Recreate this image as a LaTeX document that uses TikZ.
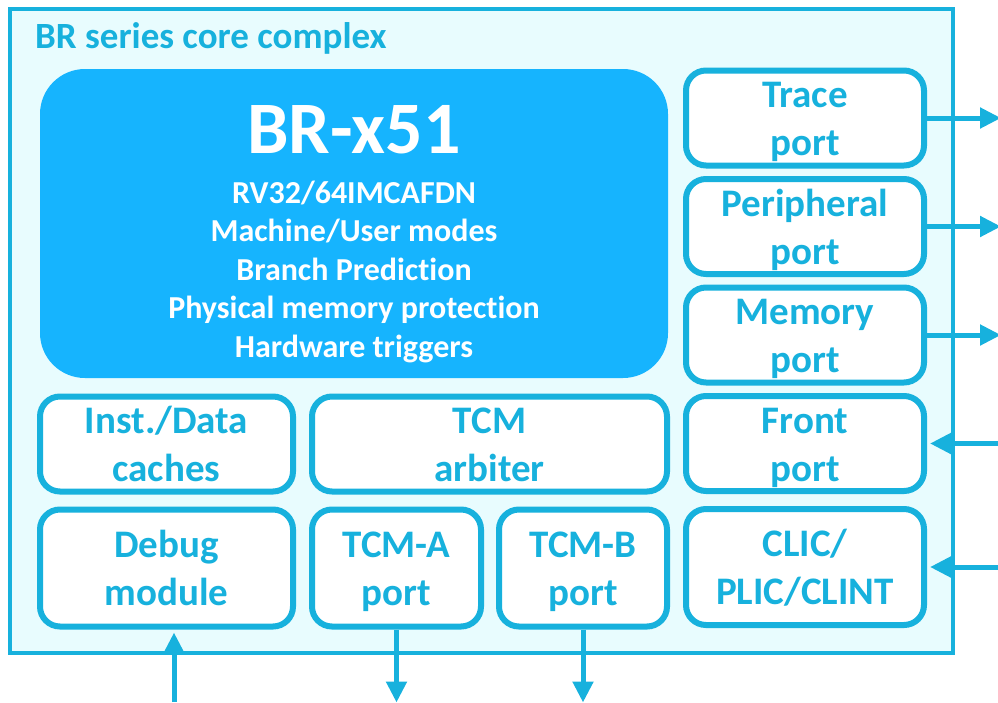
\documentclass[tikz,border=0pt]{standalone}
\usepackage{fontspec}
\setmainfont{Carlito}[Ligatures=NoCommon]
\usetikzlibrary{arrows.meta}

\definecolor{brline}{HTML}{17B1DD}
\definecolor{brcore}{HTML}{16B4FE}
\definecolor{brback}{HTML}{E8FCFE}

% two-line label with fixed height above and depth below
\newcommand{\twolines}[2]{\rule{0pt}{37pt}#1\\#2\rule[-10pt]{0pt}{10pt}}

\tikzset{
    unitbox/.style={draw=brline, line width=6pt, fill=white, rounded corners=20pt,
        text=brline, align=center, inner sep=0pt,
        font=\fontsize{39}{48}\selectfont\bfseries},
    link/.style={brline, line width=5pt, -{Triangle[length=21pt,width=20pt]}}
}

\begin{document}
\begin{tikzpicture}[x=1pt, y=-1pt]
    \useasboundingbox (0,0) rectangle (998,702);

    % Core complex frame
    \node[draw=brline, line width=4pt, fill=brback, inner sep=0pt,
        minimum width=943pt, minimum height=644pt] (complex) at (481.5,331) {};
    \node[anchor=base west, text=brline, inner sep=0pt,
        font=\fontsize{37}{44}\selectfont\bfseries] (title) at (35,48) {BR series core complex};

    % Processor core
    \node[fill=brcore, rounded corners=45pt, inner sep=0pt,
        minimum width=628pt, minimum height=309pt] (core) at (354,223.5) {};
    \node[anchor=base, text=white, inner sep=0pt,
        font=\fontsize{74}{80}\selectfont\bfseries] (corename) at (354,153) {BR-x51};
    \foreach \i/\txt in {0/{RV32/64IMCAFDN}, 1/{Machine/User modes}, 2/{Branch Prediction},
                         3/{Physical memory protection}, 4/{Hardware triggers}} {
        \node[anchor=base, text=white, inner sep=0pt,
            font=\fontsize{32}{38}\selectfont\bfseries] (feat\i) at (354,203+38.5*\i) {\txt};
    }

    % Ports on the right
    \node[unitbox, minimum width=238pt, minimum height=92pt] (trace) at (805,118) {\twolines{Trace}{port}};
    \node[unitbox, minimum width=238pt, minimum height=92pt] (periph) at (805,226.5) {\twolines{Peripheral}{port}};
    \node[unitbox, minimum width=238pt, minimum height=92pt] (memory) at (805,335) {\twolines{Memory}{port}};
    \node[unitbox, minimum width=238pt, minimum height=92pt] (front) at (805,443.5) {\twolines{Front}{port}};
    \node[unitbox, minimum width=238pt, minimum height=116pt] (clic) at (805,567) {\twolines{CLIC/}{PLIC/CLINT}};

    % Lower blocks
    \node[unitbox, minimum width=253pt, minimum height=92pt] (cache) at (166.5,444) {\twolines{Inst./Data}{caches}};
    \node[unitbox, minimum width=355pt, minimum height=92pt] (arbiter) at (489.5,444) {\twolines{TCM}{arbiter}};
    \node[unitbox, minimum width=253pt, minimum height=117pt] (debug) at (166.5,568) {\twolines{Debug}{module}};
    \node[unitbox, minimum width=169pt, minimum height=117pt] (tcma) at (396.5,568) {\twolines{TCM-A}{port}};
    \node[unitbox, minimum width=168pt, minimum height=117pt] (tcmb) at (583,568) {\twolines{TCM-B}{port}};

    % Connections
    \draw[link] (trace.east) -- ++(74,0);
    \draw[link] (periph.east) -- ++(74,0);
    \draw[link] (memory.east) -- ++(74,0);
    \draw[link, shorten >=3pt] (front.east) ++(74,0) -- (front.east);
    \draw[link, shorten >=3pt] (clic.east) ++(74,0) -- (clic.east);
    \coordinate (dbgin) at (174,702);
    \draw[link, shorten >=3pt] (dbgin) -- (dbgin |- debug.south);
    \draw[link] (tcma.south) -- ++(0,73);
    \draw[link] (tcmb.south) -- ++(0,73);
\end{tikzpicture}
\end{document}
